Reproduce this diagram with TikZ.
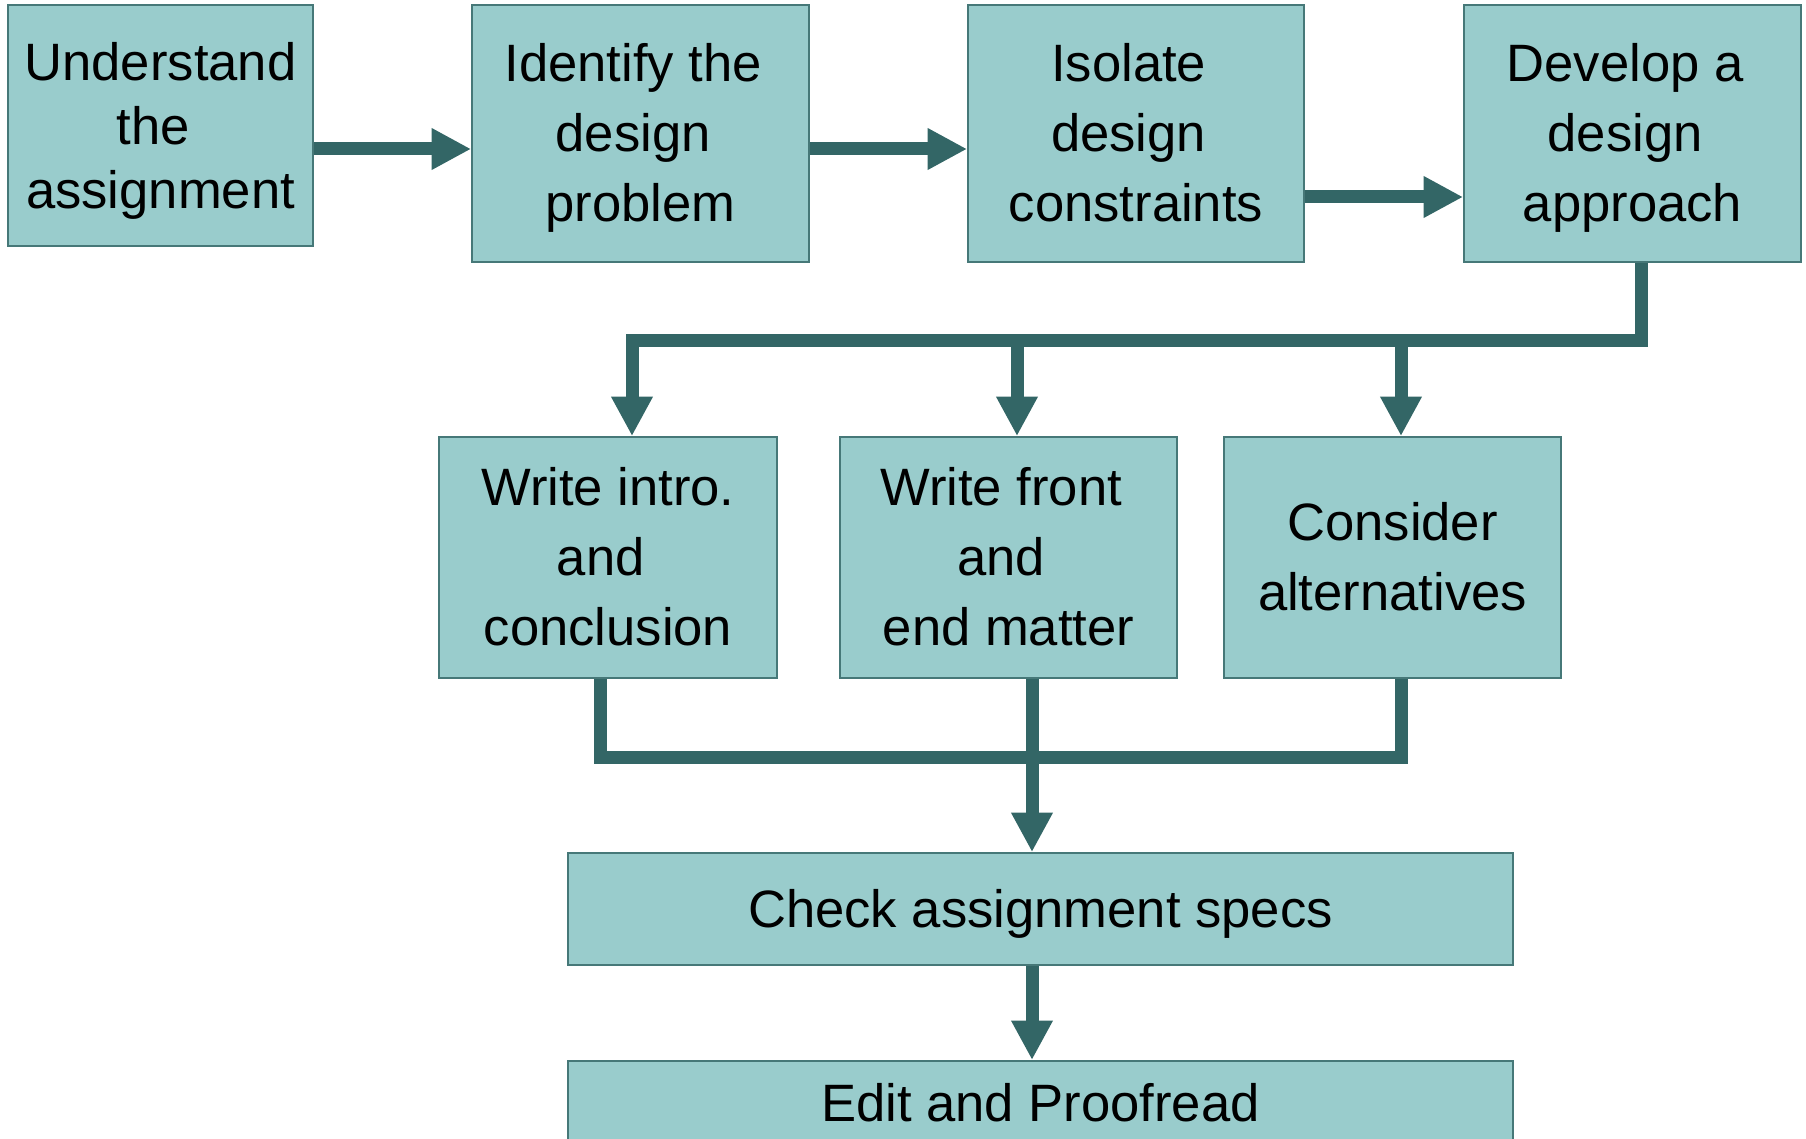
\documentclass[tikz,border=0pt]{standalone}
\usepackage{fontspec}
\setmainfont{Liberation Sans}
\usetikzlibrary{arrows.meta}
\definecolor{boxfill}{RGB}{153,204,204}
\definecolor{conn}{RGB}{51,102,102}
\definecolor{boxline}{RGB}{70,120,120}
\newcommand{\boxtop}{\rule{0pt}{25pt}}
\newcommand{\boxtopwide}{\rule{0pt}{26.2pt}}
\newcommand{\boxbot}{\rule[-6.7pt]{0pt}{0pt}}
\begin{document}
\begin{tikzpicture}[x=0.5pt,y=-0.5pt,
  box/.style={draw=boxline, fill=boxfill, line width=0.9pt, inner sep=0pt, align=center, font=\fontsize{26.3}{35}\selectfont},
  link/.style={draw=conn, line width=6.5pt},
  flow/.style={link, -{Triangle[length=19.75pt,width=19.5pt]}}]
\useasboundingbox (0,0) rectangle (1806,1139);
\clip (0,0) rectangle (1806,1139);
\fill[white] (0,0) rectangle (1806,1139);
% top row
\node[box, minimum width=152.5pt, minimum height=120.5pt, font=\fontsize{26.3}{32}\selectfont] (b1) at (160.5,125.5) {\boxtopwide Understand\\the\kern.28em\\assignment\boxbot};
\node[box, minimum width=168.5pt, minimum height=128.5pt] (b2) at (640.5,133.5) {\boxtop Identify the\kern.28em\\design\kern.28em\\problem\boxbot};
\node[box, minimum width=168pt, minimum height=128.5pt] (b3) at (1136,133.5) {\boxtop Isolate\kern.28em\\design\kern.28em\\constraints\boxbot};
\node[box, minimum width=168.5pt, minimum height=128.5pt] (b4) at (1632.5,133.5) {\boxtop Develop a\kern.28em\\design\kern.28em\\approach\boxbot};
% middle row
\node[box, minimum width=169pt, minimum height=120.5pt] (b5) at (608,557.5) {\boxtop Write intro.\\and\kern.28em\\conclusion\boxbot};
\node[box, minimum width=168.5pt, minimum height=120.5pt] (b6) at (1008.5,557.5) {\boxtop Write front\kern.28em\\and\kern.28em\\end matter\boxbot};
\node[box, minimum width=168.5pt, minimum height=120.5pt] (b7) at (1392.5,557.5) {\boxtop Consider\\alternatives\boxbot};
% bottom
\node[box, minimum width=472.5pt, minimum height=56pt] (b8) at (1040.5,909) {\boxtop Check assignment specs\boxbot};
\node[box, anchor=north, minimum width=472.5pt, text height=30.4pt, text depth=14.1pt] (b9) at (1040.5,1060) {Edit and Proofread};
% connectors
\draw[flow] (b1.east |- 0,149) -- (b2.west |- 0,149);
\draw[flow] (b2.east |- 0,149) -- (b3.west |- 0,149);
\draw[flow] (b3.east |- 0,197) -- (b4.west |- 0,197);
\coordinate (jr) at (1641,341);
\coordinate (jl) at (632,341);
\coordinate (jm) at (1017,341);
\coordinate (jk) at (1401,341);
\draw[flow] (b4.south -| jr) -- (jr) -- (jl) -- (b5.north -| jl);
\draw[flow] (jm) -- (b6.north -| jm);
\draw[flow] (jk) -- (b7.north -| jk);
\coordinate (kl) at (600,757);
\coordinate (kr) at (1401,757);
\coordinate (km) at (1032,757);
\draw[link] (b5.south -| kl) -- (kl) -- (kr) -- (b7.south -| kr);
\draw[flow] (b6.south -| km) -- (b8.north -| km);
\draw[flow] (b8.south -| km) -- (b9.north -| km);
\end{tikzpicture}
\end{document}
